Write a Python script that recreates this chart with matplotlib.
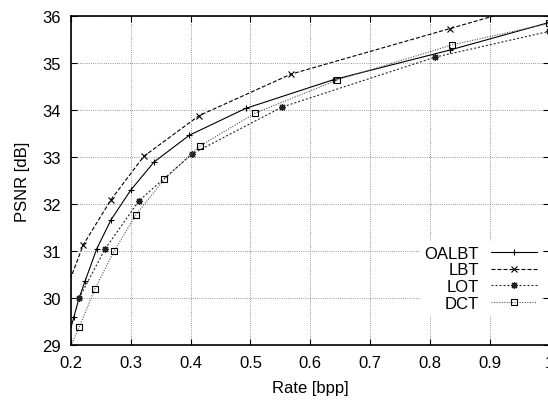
import matplotlib
matplotlib.use("Agg")
import matplotlib.pyplot as plt

# rate [bpp] / PSNR [dB] (first/last pairs fall just outside the frame)
oalbt_rate = [0.195, 0.205, 0.2134, 0.2234, 0.243, 0.2669, 0.2998, 0.3388, 0.398, 0.492, 0.6387, 0.833, 1.0]
oalbt_psnr = [29.15, 29.61, 30.0, 30.36, 31.05, 31.67, 32.30, 32.90, 33.47, 34.04, 34.65, 35.28, 35.87]

lbt_rate = [0.195, 0.2206, 0.267, 0.3216, 0.414, 0.568, 0.834, 1.0]
lbt_psnr = [30.28, 31.14, 32.10, 33.02, 33.885, 34.77, 35.74, 36.35]

lot_rate = [0.2134, 0.257, 0.314, 0.4023, 0.553, 0.8087, 1.0]
lot_psnr = [30.0, 31.05, 32.08, 33.07, 34.07, 35.13, 35.68]

dct_rate = [0.198, 0.2134, 0.240, 0.2719, 0.3087, 0.356, 0.4157, 0.508, 0.644, 0.837, 1.0]
dct_psnr = [28.94, 29.38, 30.20, 31.00, 31.78, 32.53, 33.24, 33.94, 34.64, 35.39, 35.85]

x_ticks = [0.2, 0.3, 0.4, 0.5, 0.6, 0.7, 0.8, 0.9, 1.0]
x_labels = ["0.2", "0.3", "0.4", "0.5", "0.6", "0.7", "0.8", "0.9", "1"]
y_ticks = [29, 30, 31, 32, 33, 34, 35, 36]

plt.rcParams['font.family'] = ['Liberation Sans', 'DejaVu Sans']
plt.rcParams['font.size'] = 12

fig = plt.figure(figsize=(5.48, 4.02), dpi=100)
ax = fig.add_axes([71 / 548, 55.7 / 402, 478.4 / 548, 329 / 402])

lw = 0.8
ax.plot(oalbt_rate, oalbt_psnr, color="black", lw=lw, linestyle="-",
        marker="+", ms=5, mew=0.8, label="OALBT")
ax.plot(lbt_rate, lbt_psnr, color="black", lw=lw, linestyle=(0, (3.6, 1.8)),
        marker="x", ms=4, mew=0.8, label="LBT")
ax.plot(lot_rate, lot_psnr, color="#222222", lw=lw, linestyle=(0, (1.8, 1.8)),
        marker=(8, 2, 0), ms=5, mew=0.9, label="LOT")
ax.plot(dct_rate, dct_psnr, color="#555555", lw=lw, linestyle=(0, (1, 1.3)),
        marker="s", ms=4.5, mew=0.8, mfc="none", mec="black", label="DCT")

ax.set_xlim(0.2, 1.0)
ax.set_ylim(29, 36)
ax.set_xticks(x_ticks)
ax.set_xticklabels(x_labels)
ax.set_yticks(y_ticks)

ax.grid(True, color="#777777", lw=0.6, linestyle=(0, (1, 1.6)))
ax.set_axisbelow(True)
ax.tick_params(direction="in", length=4, width=0.8, top=True, right=True, pad=7)
for sp in ax.spines.values():
    sp.set_linewidth(1.2)

ax.set_xlabel("Rate [bpp]", labelpad=7)
ax.set_ylabel("PSNR [dB]", labelpad=9)

leg = ax.legend(loc="upper right", bbox_to_anchor=(0.985, 0.318), markerfirst=False,
                frameon=True, fancybox=False, framealpha=1, edgecolor="none",
                handlelength=2.8, handletextpad=0.7, labelspacing=0.1,
                borderpad=0.3, borderaxespad=0, numpoints=1)

fig.savefig("out.png", dpi=100)
